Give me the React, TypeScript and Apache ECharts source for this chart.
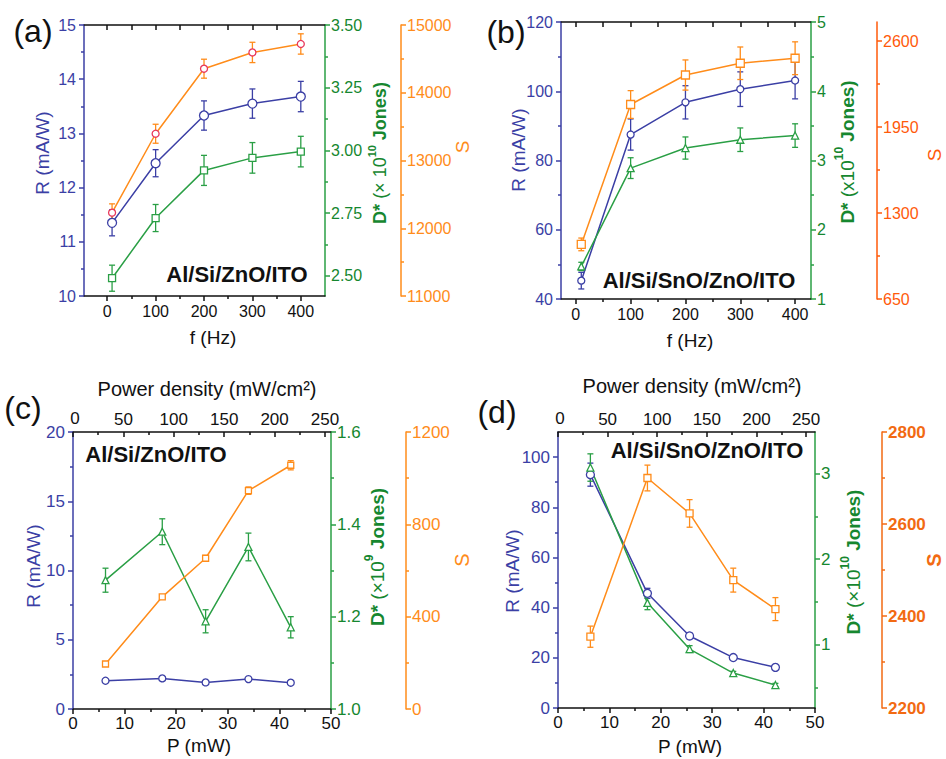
import React, { useEffect, useRef } from 'react';
import * as echarts from 'echarts';

const FONT = '"Liberation Sans", Arial, Helvetica, sans-serif';
const BLUE = '#3b3fa5';
const GREEN = '#2a9f45';
const GREEN_TXT = '#16872f';
const ORANGE = '#ff8c1a';
const ORANGE_B = '#ff5a0a';
const ORANGE_D = '#f26a12';
const RED = '#e8365a';
const BLACK = '#111111';

// ---------- Panel (a): Al/Si/ZnO/ITO vs frequency ----------
const freqA = [10, 100, 200, 300, 400];
const respA = [11.35, 12.45, 13.33, 13.55, 13.68];
const respAErr = [0.24, 0.25, 0.27, 0.27, 0.28];
const detA = [2.49, 2.73, 2.92, 2.97, 2.995];
const detAErr = [0.052, 0.054, 0.06, 0.061, 0.061];
const sensA = [12230, 13395, 14355, 14595, 14720];
const sensAErr = [130, 140, 140, 150, 150];

// ---------- Panel (b): Al/Si/SnO/ZnO/ITO vs frequency ----------
const freqB = [10, 100, 200, 300, 400];
const respB = [45.3, 87.5, 96.8, 100.6, 103.1];
const respBErr = [2.4, 4.5, 4.8, 5.0, 5.3];
const detB = [1.47, 2.89, 3.18, 3.3, 3.36];
const detBErr = [0.06, 0.15, 0.16, 0.17, 0.17];
const sensB = [1063, 2121, 2344, 2433, 2471];
const sensBErr = [48, 105, 114, 123, 124];

// ---------- Panel (c): Al/Si/ZnO/ITO vs power ----------
const powerC = [6.3, 17.3, 25.7, 34.0, 42.2];
const respC = [2.04, 2.21, 1.92, 2.16, 1.9];
const respCErr = [0.08, 0.08, 0.08, 0.08, 0.08];
const detC = [1.279, 1.384, 1.19, 1.351, 1.177];
const detCErr = [0.026, 0.028, 0.025, 0.03, 0.023];
const sensC = [195, 486, 653, 946, 1056];
const sensCErr = [8, 8, 12, 16, 20];

// ---------- Panel (d): Al/Si/SnO/ZnO/ITO vs power ----------
const powerD = [6.3, 17.4, 25.6, 34.1, 42.3];
const respD = [93.0, 45.7, 28.7, 20.1, 16.2];
const respDErr = [4.6, 2.0, 1.2, 0.8, 0.8];
const detD = [3.07, 1.49, 0.95, 0.67, 0.53];
const detDErr = [0.16, 0.08, 0.04, 0.02, 0.02];
const sensD = [2355, 2700, 2623, 2478, 2415];
const sensDErr = [23, 28, 30, 26, 25];

// ---------- Tick labels ----------
const freqTicks = [0, 100, 200, 300, 400];
const freqMinor = [50, 150, 250, 350];
const freqTop = [0, 50, 100, 150, 200, 250, 300, 350, 400];
const powerTicks = [0, 10, 20, 30, 40, 50];
const powerMinor = [5, 15, 25, 35, 45];
const densityTicks = [0, 50, 100, 150, 200, 250];
const densityMinor = [25, 75, 125, 175, 225];

const respATicks = [10, 11, 12, 13, 14, 15];
const respAMinor = [10.5, 11.5, 12.5, 13.5, 14.5];
const detATicks = [2.5, 2.75, 3.0, 3.25, 3.5];
const detAMinor = [2.625, 2.875, 3.125, 3.375];
const sensATicks = [11000, 12000, 13000, 14000, 15000];
const sensAMinor = [11500, 12500, 13500, 14500];

const respBTicks = [40, 60, 80, 100, 120];
const respBMinor = [50, 70, 90, 110];
const detBTicks = [1, 2, 3, 4, 5];
const detBMinor = [1.5, 2.5, 3.5, 4.5];
const sensBTicks = [650, 1300, 1950, 2600];
const sensBMinor = [975, 1625, 2275];

const respCTicks = [0, 5, 10, 15, 20];
const respCMinor = [2.5, 7.5, 12.5, 17.5];
const detCTicks = [1.0, 1.2, 1.4, 1.6];
const detCMinor = [1.1, 1.3, 1.5];
const sensCTicks = [0, 400, 800, 1200];
const sensCMinor = [200, 600, 1000];

const respDTicks = [0, 20, 40, 60, 80, 100];
const respDMinor = [10, 30, 50, 70, 90];
const detDTicks = [1, 2, 3];
const detDMinor = [0.5, 1.5, 2.5];
const sensDTicks = [2200, 2400, 2600, 2800];
const sensDMinor = [2300, 2500, 2700];

type AxisSpec = {
  grid: number;
  min: number;
  max: number;
  major: number[];
  minor: number[];
  color: string;
  lineColor?: string;
  position: string;
  offset?: number;
  fontSize?: number;
  bold?: boolean;
  fmt?: (v: number) => string;
  inside?: boolean;
  showLabel?: boolean;
  margin?: number;
  showLine?: boolean;
  skipMinLabel?: boolean;
};

function addAxes(list: any[], s: AxisSpec): number {
  const lc = s.lineColor || s.color;
  const base = {
    type: 'value',
    gridIndex: s.grid,
    min: s.min,
    max: s.max,
    position: s.position,
    offset: s.offset || 0,
    splitLine: { show: false },
    minorTick: { show: false },
  };
  const idx = list.length;
  const fmt = s.fmt || ((v: number) => String(v));
  const labelValues = s.skipMinLabel ? s.major.filter((v) => v !== s.min) : s.major;
  list.push({
    ...base,
    axisLine: { show: s.showLine !== false, onZero: false, lineStyle: { color: lc, width: 1.5 } },
    axisTick: {
      show: true,
      inside: !!s.inside,
      length: 5,
      customValues: s.major,
      lineStyle: { color: lc, width: 1.5 },
    },
    axisLabel: {
      show: s.showLabel !== false,
      customValues: labelValues,
      showMinLabel: true,
      showMaxLabel: true,
      hideOverlap: false,
      color: s.color,
      fontSize: s.fontSize || 15,
      fontWeight: s.bold ? 'bold' : 'normal',
      fontFamily: FONT,
      margin: s.margin ?? 7,
      formatter: (v: number) => fmt(Math.round(Number(v) * 1000) / 1000),
    },
  });
  if (s.minor.length) {
    list.push({
      ...base,
      axisLine: { show: false, onZero: false },
      axisTick: {
        show: true,
        inside: !!s.inside,
        length: 3,
        customValues: s.minor,
        lineStyle: { color: lc, width: 1.5 },
      },
      axisLabel: { show: false },
    });
  }
  return idx;
}

function lineSeries(xi: number, yi: number, xs: number[], ys: number[], color: string, symbol: string, size: number, marker?: string) {
  return {
    type: 'line',
    xAxisIndex: xi,
    yAxisIndex: yi,
    data: xs.map((x, i) => [x, ys[i]]),
    symbol,
    symbolSize: size,
    showSymbol: true,
    lineStyle: { color, width: 1.5 },
    itemStyle: { color: '#ffffff', borderColor: marker || color, borderWidth: 1.3 },
    z: 3,
    silent: true,
  };
}

function errSeries(xi: number, yi: number, xs: number[], ys: number[], es: number[], color: string) {
  return {
    type: 'custom',
    xAxisIndex: xi,
    yAxisIndex: yi,
    dimensions: ['x', 'y', 'e'],
    encode: { x: 0, y: 1 },
    data: xs.map((x, i) => [x, ys[i], es[i]]),
    z: 2,
    silent: true,
    renderItem: (_p: any, api: any) => {
      const x = api.value(0);
      const y = api.value(1);
      const e = api.value(2);
      const t = api.coord([x, y + e]);
      const b = api.coord([x, y - e]);
      const cap = 3;
      const st = { stroke: color, lineWidth: 1.3 };
      return {
        type: 'group',
        children: [
          { type: 'line', shape: { x1: t[0], y1: t[1], x2: b[0], y2: b[1] }, style: st },
          { type: 'line', shape: { x1: t[0] - cap, y1: t[1], x2: t[0] + cap, y2: t[1] }, style: st },
          { type: 'line', shape: { x1: b[0] - cap, y1: b[1], x2: b[0] + cap, y2: b[1] }, style: st },
        ],
      };
    },
  };
}

function txt(x: number, y: number, text: string, fill: string, fontSize: number, bold = false, rot = false, rich?: any) {
  return {
    type: 'text',
    x,
    y,
    z: 100,
    rotation: rot ? Math.PI / 2 : 0,
    silent: true,
    style: {
      text,
      fill,
      fontSize,
      fontFamily: FONT,
      fontWeight: bold ? 'bold' : 'normal',
      align: 'center',
      verticalAlign: 'middle',
      textAlign: 'center',
      textVerticalAlign: 'middle',
      rich,
    },
  };
}

function detTitle(x: number, y: number, pre: string, sup: string, size: number) {
  const rich = {
    b: { fontSize: size, fontWeight: 'bold', fill: GREEN_TXT, fontFamily: FONT, lineHeight: 28, verticalAlign: 'middle' },
    n: { fontSize: size, fontWeight: 'normal', fill: GREEN_TXT, fontFamily: FONT, lineHeight: 28, verticalAlign: 'middle' },
    s: { fontSize: Math.round(size * 0.62), fontWeight: 'bold', fill: GREEN_TXT, fontFamily: FONT, lineHeight: 12, verticalAlign: 'top' },
  };
  return txt(x, y, `{b|D*}{n|${pre}}{s|${sup}}{b| Jones)}`, GREEN_TXT, size, true, true, rich);
}

// Corner label of the top (power density) axis, written as rich text
function cornerZero(x: number, y: number) {
  const rich = { z: { fontSize: 17, fill: BLACK, fontFamily: FONT, lineHeight: 20 } };
  return txt(x, y, `{z|${densityTicks[0]}}`, BLACK, 17, false, false, rich);
}

function buildOption() {
  const xAxis: any[] = [];
  const yAxis: any[] = [];
  const series: any[] = [];

  const grid = [
    { left: 84, top: 25, width: 241, height: 271, outerBoundsMode: 'none' },
    { left: 561, top: 22, width: 250, height: 277, outerBoundsMode: 'none' },
    { left: 73, top: 432, width: 258, height: 277, outerBoundsMode: 'none' },
    { left: 558, top: 432, width: 257, height: 276, outerBoundsMode: 'none' },
  ];

  // ---- Panel (a)
  const xa = addAxes(xAxis, { grid: 0, min: -48, max: 450, major: freqTicks, minor: freqMinor, position: 'bottom', color: BLACK, fontSize: 16, margin: 7 });
  addAxes(xAxis, { grid: 0, min: -48, max: 450, major: freqTop, minor: [], position: 'top', color: BLACK, inside: true, showLabel: false });
  const ya1 = addAxes(yAxis, { grid: 0, min: 10, max: 15, major: respATicks, minor: respAMinor, position: 'left', color: BLUE, fontSize: 16, margin: 8 });
  const ya2 = addAxes(yAxis, { grid: 0, min: 2.419, max: 3.5, major: detATicks, minor: detAMinor, position: 'right', color: GREEN_TXT, lineColor: GREEN, fontSize: 16, fmt: (v) => v.toFixed(2), margin: 6 });
  const ya3 = addAxes(yAxis, { grid: 0, min: 11000, max: 15000, major: sensATicks, minor: sensAMinor, position: 'right', offset: 76, color: ORANGE, fontSize: 16, margin: 6 });
  series.push(errSeries(xa, ya1, freqA, respA, respAErr, BLUE));
  series.push(errSeries(xa, ya2, freqA, detA, detAErr, GREEN));
  series.push(errSeries(xa, ya3, freqA, sensA, sensAErr, ORANGE));
  series.push(lineSeries(xa, ya1, freqA, respA, BLUE, 'circle', 9));
  series.push(lineSeries(xa, ya2, freqA, detA, GREEN, 'rect', 7));
  series.push(lineSeries(xa, ya3, freqA, sensA, ORANGE, 'circle', 7, RED));

  // ---- Panel (b)
  const xb = addAxes(xAxis, { grid: 1, min: -27, max: 429, major: freqTicks, minor: freqMinor, position: 'bottom', color: BLACK, fontSize: 16, margin: 7 });
  addAxes(xAxis, { grid: 1, min: -27, max: 429, major: freqTop, minor: [], position: 'top', color: BLACK, inside: true, showLabel: false });
  const yb1 = addAxes(yAxis, { grid: 1, min: 40, max: 120, major: respBTicks, minor: respBMinor, position: 'left', color: BLUE, fontSize: 16, margin: 8 });
  const yb2 = addAxes(yAxis, { grid: 1, min: 1, max: 5, major: detBTicks, minor: detBMinor, position: 'right', color: GREEN_TXT, lineColor: GREEN, fontSize: 16, margin: 6 });
  const yb3 = addAxes(yAxis, { grid: 1, min: 650, max: 2745, major: sensBTicks, minor: sensBMinor, position: 'right', offset: 66, color: ORANGE_B, fontSize: 16, margin: 6 });
  series.push(errSeries(xb, yb1, freqB, respB, respBErr, BLUE));
  series.push(errSeries(xb, yb2, freqB, detB, detBErr, GREEN));
  series.push(errSeries(xb, yb3, freqB, sensB, sensBErr, ORANGE));
  series.push(lineSeries(xb, yb1, freqB, respB, BLUE, 'circle', 7));
  series.push(lineSeries(xb, yb2, freqB, detB, GREEN, 'triangle', 7));
  series.push(lineSeries(xb, yb3, freqB, sensB, ORANGE, 'rect', 8));

  // ---- Panel (c)
  const xc = addAxes(xAxis, { grid: 2, min: 0, max: 50, major: powerTicks, minor: powerMinor, position: 'bottom', color: BLACK, fontSize: 17, margin: 6 });
  addAxes(xAxis, { grid: 2, min: 0, max: 256, major: densityTicks, minor: densityMinor, position: 'top', color: BLACK, inside: true, fontSize: 17, margin: 4, skipMinLabel: true });
  const yc1 = addAxes(yAxis, { grid: 2, min: 0, max: 20, major: respCTicks, minor: respCMinor, position: 'left', color: BLUE, fontSize: 17, margin: 8 });
  const yc2 = addAxes(yAxis, { grid: 2, min: 1.0, max: 1.6, major: detCTicks, minor: detCMinor, position: 'right', color: GREEN_TXT, lineColor: GREEN, fontSize: 17, fmt: (v) => v.toFixed(1), margin: 6 });
  const yc3 = addAxes(yAxis, { grid: 2, min: 0, max: 1200, major: sensCTicks, minor: sensCMinor, position: 'right', offset: 75, color: ORANGE, fontSize: 17, margin: 6 });
  series.push(errSeries(xc, yc1, powerC, respC, respCErr, BLUE));
  series.push(errSeries(xc, yc2, powerC, detC, detCErr, GREEN));
  series.push(errSeries(xc, yc3, powerC, sensC, sensCErr, ORANGE));
  series.push(lineSeries(xc, yc1, powerC, respC, BLUE, 'circle', 7));
  series.push(lineSeries(xc, yc2, powerC, detC, GREEN, 'triangle', 7));
  series.push(lineSeries(xc, yc3, powerC, sensC, ORANGE, 'rect', 6));

  // ---- Panel (d)
  const xd = addAxes(xAxis, { grid: 3, min: 0, max: 50, major: powerTicks, minor: powerMinor, position: 'bottom', color: BLACK, fontSize: 17, margin: 6 });
  addAxes(xAxis, { grid: 3, min: 0, max: 259, major: densityTicks, minor: densityMinor, position: 'top', color: BLACK, inside: true, fontSize: 17, margin: 4, skipMinLabel: true });
  const yd1 = addAxes(yAxis, { grid: 3, min: 0, max: 110, major: respDTicks, minor: respDMinor, position: 'left', color: BLUE, fontSize: 17, margin: 8 });
  const yd2 = addAxes(yAxis, { grid: 3, min: 0.262, max: 3.485, major: detDTicks, minor: detDMinor, position: 'right', color: GREEN_TXT, lineColor: GREEN, fontSize: 17, margin: 6 });
  const yd3 = addAxes(yAxis, { grid: 3, min: 2200, max: 2800, major: sensDTicks, minor: sensDMinor, position: 'right', offset: 67, color: ORANGE_D, fontSize: 17, bold: true, margin: 6 });
  series.push(errSeries(xd, yd1, powerD, respD, respDErr, BLUE));
  series.push(errSeries(xd, yd2, powerD, detD, detDErr, GREEN));
  series.push(errSeries(xd, yd3, powerD, sensD, sensDErr, ORANGE));
  series.push(lineSeries(xd, yd1, powerD, respD, BLUE, 'circle', 8));
  series.push(lineSeries(xd, yd2, powerD, detD, GREEN, 'triangle', 7));
  series.push(lineSeries(xd, yd3, powerD, sensD, ORANGE, 'rect', 7));

  const graphic = [
    // panel letters
    txt(33, 31, '(a)', BLACK, 32),
    txt(506, 32, '(b)', BLACK, 32),
    txt(23, 408, '(c)', BLACK, 32),
    txt(497, 412, '(d)', BLACK, 32),
    // sample labels
    txt(237, 274, 'Al/Si/ZnO/ITO', BLACK, 22, true),
    txt(699, 280, 'Al/Si/SnO/ZnO/ITO', BLACK, 22, true),
    txt(156, 454, 'Al/Si/ZnO/ITO', BLACK, 22, true),
    txt(707, 450, 'Al/Si/SnO/ZnO/ITO', BLACK, 22, true),
    // x titles
    txt(213, 337, 'f (Hz)', BLACK, 19),
    txt(690, 340, 'f (Hz)', BLACK, 19),
    txt(199, 745, 'P (mW)', BLACK, 19),
    txt(690, 746, 'P (mW)', BLACK, 19),
    txt(207, 389, 'Power density (mW/cm²)', BLACK, 20),
    txt(692, 386, 'Power density (mW/cm²)', BLACK, 20),
    // R titles
    txt(42, 153, 'R (mA/W)', BLUE, 19, false, true),
    txt(518, 150, 'R (mA/W)', BLUE, 19, false, true),
    txt(33, 566, 'R (mA/W)', BLUE, 19, false, true),
    txt(512, 571, 'R (mA/W)', BLUE, 19, false, true),
    // D* titles
    detTitle(380, 153, ' (× 10', '10', 18),
    detTitle(847, 152, ' (x10', '10', 19),
    detTitle(377, 557, ' (×10', '9', 19),
    detTitle(853, 562, ' (×10', '10', 19),
    // S titles
    txt(462, 147, 'S', ORANGE, 19, false, true),
    txt(934, 155, 'S', ORANGE_B, 19, false, true),
    txt(462, 560, 'S', ORANGE, 20, false, true),
    txt(934, 560, 'S', ORANGE_D, 20, true, true),
    // zero labels at the left end of the top axes
    cornerZero(75, 418),
    cornerZero(560, 418),
  ];

  return {
    animation: false,
    backgroundColor: '#ffffff',
    textStyle: { fontFamily: FONT },
    grid,
    xAxis,
    yAxis,
    series,
    graphic: { elements: graphic },
  };
}

export default function App() {
  const ref = useRef<HTMLDivElement>(null);
  useEffect(() => {
    const chart = echarts.init(ref.current!, null, { renderer: 'svg' });
    chart.setOption(buildOption() as any);
    return () => chart.dispose();
  }, []);
  return (
    <div
      ref={ref}
      style={{ position: 'fixed', left: 0, top: 0, width: 946, height: 759, background: '#ffffff' }}
    />
  );
}
